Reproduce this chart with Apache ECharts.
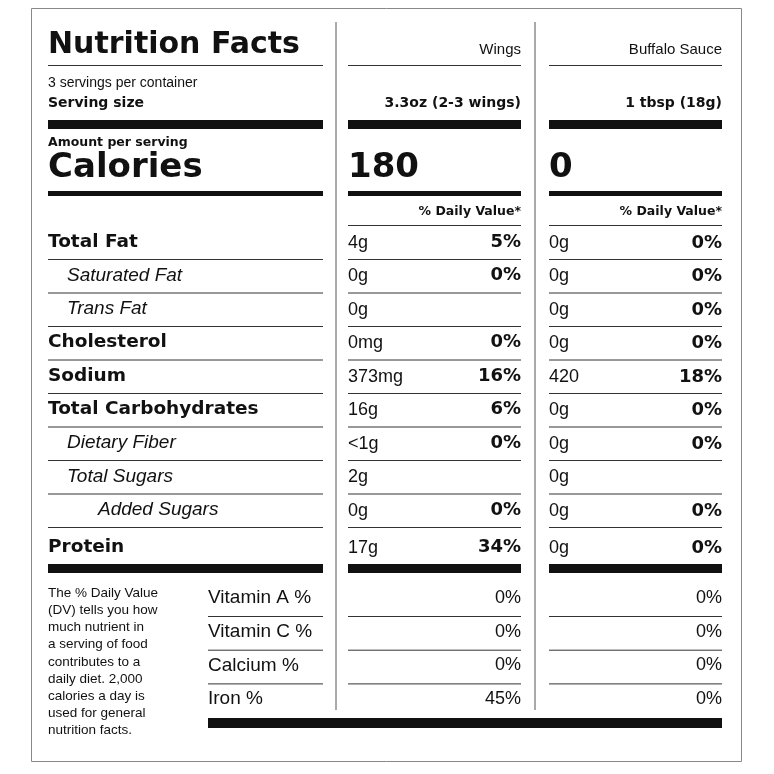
<!DOCTYPE html><html><head><meta charset="utf-8"><script src="https://cdn.jsdelivr.net/npm/echarts@6/dist/echarts.min.js"></script>
<style>html,body{margin:0;background:#fff}#c{width:774px;height:774px}</style></head><body><div id="c"></div><script>
const nutrients=["Total Fat","Saturated Fat","Trans Fat","Cholesterol","Sodium","Total Carbohydrates","Dietary Fiber","Total Sugars","Added Sugars","Protein"];
const indent=[0,1,1,0,0,0,1,1,2,0];
const wingsAmt=["4g","0g","0g","0mg","373mg","16g","<1g","2g","0g","17g"];
const wingsDV=["5%","0%","","0%","16%","6%","0%","","0%","34%"];
const sauceAmt=["0g","0g","0g","0g","420","0g","0g","0g","0g","0g"];
const sauceDV=["0%","0%","0%","0%","18%","0%","0%","","0%","0%"];
const vitamins=["Vitamin A %","Vitamin C %","Calcium %","Iron %"];
const wingsVit=["0%","0%","0%","45%"];
const sauceVit=["0%","0%","0%","0%"];
const columns=["Wings","Buffalo Sauce"];
const servings=["3.3oz (2-3 wings)","1 tbsp (18g)"];
const calories=["180","0"];
const F='"Liberation Sans", Arial, sans-serif';
const FB='"DejaVu Sans", sans-serif';
const g=[];
function T(x,y,s,size,bold,align,italic){g.push({type:'text',x,y,style:{text:s,font:(italic?'italic ':'')+(bold?'bold ':'')+size+'px '+(bold?FB:F),fill:'#111',textAlign:align||'left',textVerticalAlign:'middle'}});}
function R(x1,y,x2,h){g.push({type:'rect',shape:{x:x1,y:y,width:x2-x1,height:h},style:{fill:'#111'}});}
function L(x1,y1,x2,y2,c,w){g.push({type:'line',shape:{x1,y1,x2,y2},style:{stroke:c||'#333',lineWidth:w||1}});}
g.push({type:'rect',shape:{x:31.5,y:8.5,width:710,height:753},style:{fill:'none',stroke:'#888',lineWidth:1}});
L(336,22,336,710,'#555');L(535,22,535,710,'#555');
const cols=[[48,323],[348,521],[549,722]];
T(48,45,'Nutrition Facts',30,true);
cols.forEach(c=>L(c[0],65.5,c[1],65.5));
columns.forEach((s,i)=>T(cols[i+1][1],50,s,15,false,'right'));
T(48,83,'3 servings per container',14);T(48,103,'Serving size',14,true);
servings.forEach((s,i)=>T(cols[i+1][1],103,s,14,true,'right'));
cols.forEach(c=>R(c[0],120,c[1],9));
T(48,143,'Amount per serving',12.5,true);T(48,168,'Calories',34,true);
calories.forEach((s,i)=>T(cols[i+1][0],168,s,34,true));
cols.forEach(c=>R(c[0],191,c[1],5));
[1,2].forEach(i=>{T(cols[i][1],212,'% Daily Value*',12.5,true,'right');L(cols[i][0],225.5,cols[i][1],225.5);});
nutrients.forEach((n,i)=>{
  const y=242+i*33.5+(i==9?4:0);
  const b=indent[i]==0;
  T(48+indent[i]*19+(indent[i]==2?12:0),y,n,b?18.5:19,b,'left',!b);
  T(348,y+1,wingsAmt[i],18);T(521,y,wingsDV[i],18,true,'right');
  T(549,y+1,sauceAmt[i],18);T(722,y+1,sauceDV[i],18,true,'right');
  if(i<9) cols.forEach(c=>L(c[0],259.5+i*33.5,c[1],259.5+i*33.5));
});
cols.forEach(c=>R(c[0],564,c[1],9));
const foot=["The % Daily Value","(DV) tells you how","much nutrient in","a serving of food","contributes to a","daily diet. 2,000","calories a day is","used for general","nutrition facts."];
foot.forEach((s,i)=>T(48,593+i*17.2,s,13.5));
vitamins.forEach((v,i)=>{
  const y=598+i*33.7;
  T(208,y,v,19);T(521,y,wingsVit[i],18,false,'right');T(722,y,sauceVit[i],18,false,'right');
  if(i<3){L(208,616.5+i*33.7,323,616.5+i*33.7);L(348,616.5+i*33.7,521,616.5+i*33.7);L(549,616.5+i*33.7,722,616.5+i*33.7);}
});
R(208,718,722,10);
const ch=echarts.init(document.getElementById('c'));
ch.setOption({animation:false,graphic:g});
</script></body></html>
